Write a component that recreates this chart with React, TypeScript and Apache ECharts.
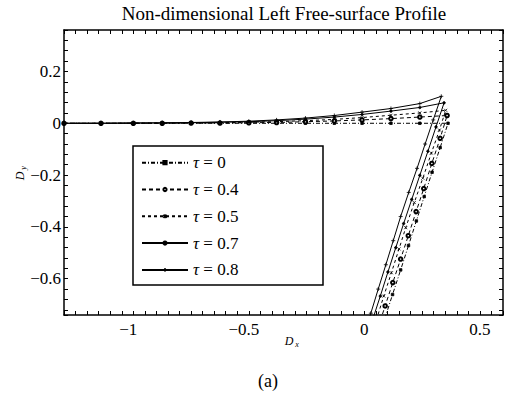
import React, { useEffect, useRef } from 'react';
import * as echarts from 'echarts';

// ---- data ----
const tauNames = ['τ = 0', 'τ = 0.4', 'τ = 0.5', 'τ = 0.7', 'τ = 0.8'];

// free-surface (near horizontal) part, shared x positions of markers
const surfaceX = [-1.3, -1.14, -1.0, -0.875, -0.75, -0.625, -0.5, -0.38, -0.255, -0.13, -0.01, 0.115, 0.24];
const surfaceY_t0 = [0, 0, 0, 0, 0, 0, 0, 0, 0, 0, 0, 0, 0];
const surfaceY_t04 = [0, 0, 0, 0, 0.001, 0.001, 0.002, 0.003, 0.006, 0.009, 0.013, 0.018, 0.024];
const surfaceY_t05 = [0, 0, 0, 0.001, 0.001, 0.002, 0.004, 0.006, 0.01, 0.015, 0.022, 0.031, 0.04];
const surfaceY_t07 = [0, 0, 0.001, 0.001, 0.002, 0.004, 0.006, 0.01, 0.016, 0.024, 0.034, 0.047, 0.061];
const surfaceY_t08 = [0, 0, 0.001, 0.002, 0.003, 0.005, 0.008, 0.013, 0.02, 0.03, 0.043, 0.057, 0.076];

// wall part (from the corner downward)
const wallX_t0 = [0.362, 0.328, 0.293, 0.259, 0.225, 0.191, 0.157, 0.122, 0.088, 0.054];
const wallY_t0 = [0, -0.094, -0.189, -0.283, -0.377, -0.472, -0.566, -0.661, -0.755, -0.849];
const wallX_t04 = [0.358, 0.328, 0.292, 0.257, 0.224, 0.19, 0.157, 0.123, 0.09, 0.057];
const wallY_t04 = [0.03, -0.058, -0.155, -0.252, -0.341, -0.434, -0.524, -0.615, -0.705, -0.795];
const wallX_t05 = [0.352, 0.325, 0.29, 0.253, 0.216, 0.179, 0.15, 0.117, 0.084, 0.053];
const wallY_t05 = [0.05, -0.026, -0.115, -0.212, -0.306, -0.403, -0.485, -0.577, -0.667, -0.756];
const wallX_t07 = [0.345, 0.31, 0.275, 0.24, 0.205, 0.17, 0.136, 0.102, 0.069, 0.035];
const wallY_t07 = [0.079, -0.014, -0.108, -0.201, -0.294, -0.387, -0.48, -0.574, -0.667, -0.76];
const wallX_t08 = [0.333, 0.298, 0.263, 0.228, 0.192, 0.157, 0.125, 0.093, 0.06, 0.028, -0.004];
const wallY_t08 = [0.104, 0.013, -0.08, -0.174, -0.267, -0.36, -0.453, -0.546, -0.64, -0.733, -0.826];

const xMin = -1.3, xMax = 0.6, xTickStep = 0.05, xLabelStep = 0.5;
const yMin = -0.74, yMax = 0.36, yLabelStep = 0.2;

const titleText = 'Non-dimensional Left Free-surface Profile';
const captionText = '(a)';

const serif = 'Liberation Serif, serif';

function pairs(sx: number[], sy: number[], wx: number[], wy: number[]) {
  const a = sx.map((x, i) => [x, sy[i]]);
  const b = wx.map((x, i) => [x, wy[i]]);
  return a.concat(b);
}

function fmt(v: number, step: number) {
  const k = v / step;
  if (Math.abs(k - Math.round(k)) > 1e-6) return '';
  const r = Math.round(k) * step;
  const s = parseFloat(Math.abs(r).toFixed(3)).toString();
  return r < -1e-9 ? '−' + s : s;
}

export default function App() {
  const ref = useRef<HTMLDivElement>(null);
  useEffect(() => {
    const chart = echarts.init(ref.current!, null, { renderer: 'svg' });
    const axisLine = { show: true, onZero: false, lineStyle: { color: '#000', width: 1.5 } };
    const axisTick = { show: true, inside: true, length: 4, lineStyle: { color: '#000', width: 1 } };
    const minorTickY = { show: true, splitNumber: 5, length: 4, lineStyle: { color: '#000', width: 1 } };
    const xLabel = {
      show: true,
      margin: 6,
      color: '#000',
      fontFamily: serif,
      fontSize: 17,
      formatter: (v: number) => {
        const s = fmt(v, xLabelStep);
        if (!s) return '';
        return s.startsWith('−') ? '{n|' + s + '}' : s;
      },
      rich: { n: { fontFamily: serif, fontSize: 17, color: '#000', padding: [0, 10, 0, 0] } },
    };
    const yLabel = {
      show: true,
      margin: 3,
      color: '#000',
      fontFamily: serif,
      fontSize: 17,
      showMinLabel: false,
      showMaxLabel: false,
      formatter: (v: number) => fmt(v, yLabelStep),
    };
    const baseLine = { color: '#000', width: 1 };
    const itemStyle = { color: '#000', borderColor: '#000', borderWidth: 0.8 };
    const mk = (name: string, data: number[][], symbol: string, size: number, type: any, z: number) => ({
      type: 'line',
      name,
      data,
      symbol,
      symbolSize: size,
      showSymbol: true,
      clip: true,
      z,
      lineStyle: { ...baseLine, type },
      itemStyle,
      emphasis: { disabled: true },
    });
    const xPath = 'path://M0,0L10,10M10,0L0,10';
    const plusPath = 'path://M0,5L10,5M5,0L5,10';
    const option: any = {
      animation: false,
      backgroundColor: '#fff',
      grid: { left: 64, right: 1, top: 30, bottom: 82, containLabel: false },
      xAxis: [
        {
          type: 'value', min: xMin, max: xMax, interval: xTickStep, position: 'bottom',
          axisLine, axisTick, axisLabel: xLabel, splitLine: { show: false },
        },
        {
          type: 'value', min: xMin, max: xMax, interval: xTickStep, position: 'top',
          axisLine, axisTick, axisLabel: { show: false }, splitLine: { show: false },
        },
      ],
      yAxis: [
        {
          type: 'value', min: yMin, max: yMax, splitNumber: 5, position: 'left',
          axisLine, axisTick, minorTick: minorTickY, axisLabel: yLabel, splitLine: { show: false },
        },
        {
          type: 'value', min: yMin, max: yMax, splitNumber: 5, position: 'right',
          axisLine, axisTick, minorTick: minorTickY, axisLabel: { show: false }, splitLine: { show: false },
        },
      ],
      legend: {
        orient: 'vertical',
        left: 141,
        top: 152.7,
        padding: 0,
        itemWidth: 46,
        itemHeight: 4,
        itemGap: 6.8,
        selectedMode: false,
        data: tauNames,
        textStyle: {
          fontFamily: serif, fontSize: 17, color: '#000', lineHeight: 20,
          rich: { t: { fontFamily: serif, fontStyle: 'italic', fontSize: 17, color: '#000', lineHeight: 20 } },
        },
        formatter: (name: string) => name.replace('τ', '{t|τ}'),
      },
      series: [
        mk(tauNames[0], pairs(surfaceX, surfaceY_t0, wallX_t0, wallY_t0), 'rect', 2.5, [4, 2, 1, 2], 2),
        mk(tauNames[1], pairs(surfaceX, surfaceY_t04, wallX_t04, wallY_t04), 'emptyCircle', 3.5, [4, 3], 3),
        mk(tauNames[2], pairs(surfaceX, surfaceY_t05, wallX_t05, wallY_t05), xPath, 3, [3, 3], 4),
        mk(tauNames[3], pairs(surfaceX, surfaceY_t07, wallX_t07, wallY_t07), 'circle', 2.5, 'solid', 5),
        mk(tauNames[4], pairs(surfaceX, surfaceY_t08, wallX_t08, wallY_t08), plusPath, 4, 'solid', 6),
      ],
      graphic: [
        {
          type: 'rect', silent: true, z: 10,
          shape: { x: 133, y: 146, width: 190, height: 139 },
          style: { fill: 'none', stroke: '#000', lineWidth: 1.5 },
        },
        {
          type: 'text', x: 284, y: 13.5, silent: true,
          style: { text: titleText, fontFamily: serif, fontSize: 19, fill: '#000', textAlign: 'center', textVerticalAlign: 'middle', align: 'center', verticalAlign: 'middle' },
        },
        {
          type: 'text', x: 268, y: 381, silent: true,
          style: { text: captionText, fontFamily: serif, fontSize: 18, fill: '#000', textAlign: 'center', textVerticalAlign: 'middle', align: 'center', verticalAlign: 'middle' },
        },
        {
          type: 'group', x: 291, y: 341, silent: true,
          children: [
            { type: 'text', x: -2, y: 0, style: { text: 'D', fontFamily: serif, fontStyle: 'italic', fontSize: 12, fill: '#000', textAlign: 'center', textVerticalAlign: 'middle', align: 'center', verticalAlign: 'middle' } },
            { type: 'text', x: 6, y: 3, style: { text: 'x', fontFamily: serif, fontStyle: 'italic', fontSize: 8, fill: '#000', textAlign: 'center', textVerticalAlign: 'middle', align: 'center', verticalAlign: 'middle' } },
          ],
        },
        {
          type: 'group', x: 20, y: 174, rotation: Math.PI / 2, silent: true,
          children: [
            { type: 'text', x: -2, y: 0, style: { text: 'D', fontFamily: serif, fontStyle: 'italic', fontSize: 12, fill: '#000', textAlign: 'center', textVerticalAlign: 'middle', align: 'center', verticalAlign: 'middle' } },
            { type: 'text', x: 6, y: 3, style: { text: 'y', fontFamily: serif, fontStyle: 'italic', fontSize: 8, fill: '#000', textAlign: 'center', textVerticalAlign: 'middle', align: 'center', verticalAlign: 'middle' } },
          ],
        },
      ],
    };
    chart.setOption(option);
    return () => chart.dispose();
  }, []);
  return (
    <div
      ref={ref}
      style={{ position: 'fixed', left: 0, top: 0, width: 506, height: 397, background: '#fff' }}
    />
  );
}
